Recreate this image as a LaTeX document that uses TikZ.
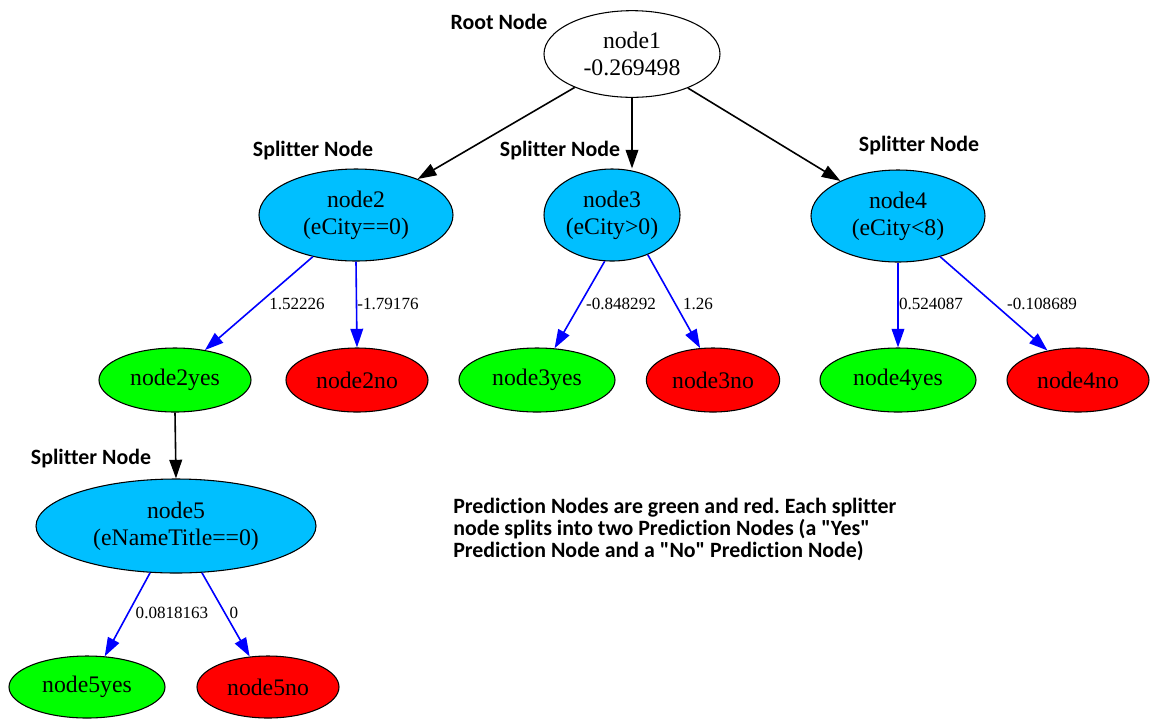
\documentclass[tikz,border=0pt]{standalone}
\usepackage{fontspec}
\setmainfont{Liberation Serif}
\newfontfamily\annfont[Ligatures={NoCommon}]{Carlito}
\usetikzlibrary{shapes.geometric,arrows.meta}
\definecolor{splitblue}{RGB}{0,191,255}
\definecolor{yesgreen}{RGB}{0,255,0}
\definecolor{nored}{RGB}{255,0,0}
\definecolor{edgeblue}{RGB}{0,0,255}
\frenchspacing
\tikzset{
  ell/.style={ellipse, draw=black, line width=0.8pt, inner sep=0pt, align=center,
    font=\fontsize{17.8}{20}\selectfont},
  rootnode/.style={ell, fill=white},
  splitnode/.style={ell, fill=splitblue},
  yesnode/.style={ell, fill=yesgreen},
  nonode/.style={ell, fill=nored},
  blackedge/.style={draw=black, line width=1.2pt, -{Triangle[length=14pt,width=9.5pt]}},
  blueedge/.style={draw=edgeblue, line width=1.2pt, -{Triangle[length=14pt,width=9.5pt]}},
  lbl/.style={font=\fontsize{12.8}{14}\selectfont, inner sep=0pt},
  ann/.style={font=\annfont\bfseries\fontsize{16.4}{16.3}\selectfont, inner sep=0pt, align=left}
}
\begin{document}
\begin{tikzpicture}[x=0.75pt,y=-0.75pt]
\useasboundingbox (0,0) rectangle (1150,719);

% nodes
\node[rootnode, minimum width=132pt, minimum height=65pt] (node1) at (632,54) {node1\\-0.269498};
\node[splitnode, minimum width=145.5pt, minimum height=69pt] (node2) at (356,215) {node2\\(eCity==0)};
\node[splitnode, minimum width=102pt, minimum height=69pt] (node3) at (612,215) {node3\\(eCity>0)};
\node[splitnode, minimum width=130.5pt, minimum height=69pt] (node4) at (898,216) {node4\\(eCity<8)};
\node[yesnode, minimum width=114pt, minimum height=48pt] (node2yes) at (175,380) {node2yes};
\node[nonode, minimum width=106.5pt, minimum height=48pt] (node2no) at (357,380) {node2no};
\node[yesnode, minimum width=117pt, minimum height=48pt] (node3yes) at (537,380) {node3yes};
\node[nonode, minimum width=100pt, minimum height=48pt] (node3no) at (713,380) {node3no};
\node[yesnode, minimum width=117pt, minimum height=48pt] (node4yes) at (898,380) {node4yes};
\node[nonode, minimum width=106.5pt, minimum height=48pt] (node4no) at (1078,380) {node4no};
\node[splitnode, minimum width=210pt, minimum height=70.5pt] (node5) at (176,526) {node5\\(eNameTitle==0)};
\node[yesnode, minimum width=117pt, minimum height=46.5pt] (node5yes) at (87,687) {node5yes};
\node[nonode, minimum width=106.5pt, minimum height=46.5pt] (node5no) at (268,687) {node5no};

% black edges
\draw[blackedge] (node1) -- (node2);
\draw[blackedge] (node1.south) -- (node1.south |- node3.north);
\draw[blackedge] (node1) -- (node4);
\draw[blackedge] (node2yes.south) -- (node5.north);

% blue edges
\draw[blueedge] (node2.224) -- (node2yes.45);
\draw[blueedge] (node2.south) -- (node2no.north);
\draw[blueedge] (node3.261) -- (node3yes.61);
\draw[blueedge] (node3.312) -- (node3no.112);
\draw[blueedge] (node4.south) -- (node4yes.north);
\draw[blueedge] (node4.316) -- (node4no.136);
\draw[blueedge] (node5.241) -- (node5yes.60);
\draw[blueedge] (node5.299) -- (node5no.121);

% edge labels
\node[lbl] (l2yes) at (297,304) {1.52226};
\node[lbl] (l2no) at (388,304) {-1.79176};
\node[lbl] (l3yes) at (621,304) {-0.848292};
\node[lbl] (l3no) at (698,304) {1.26};
\node[lbl] (l4yes) at (931,304) {0.524087};
\node[lbl] (l4no) at (1042,304) {-0.108689};
\node[lbl] (l5yes) at (172,613) {0.0818163};
\node[lbl] (l5no) at (234,613) {0};

% annotations
\node[ann] (aroot) at (499,22) {Root Node};
\node[ann] (asplit2) at (313,151) {Splitter Node};
\node[ann] (asplit3) at (560,151) {Splitter Node};
\node[ann] (asplit4) at (919,146) {Splitter Node};
\node[ann] (asplit5) at (91,459) {Splitter Node};
\node[ann, anchor=north west] (apred) at (453,498) {Prediction Nodes are green and red. Each splitter\\node splits into two Prediction Nodes (a "Yes"\\Prediction Node and a "No" Prediction Node)};
\end{tikzpicture}
\end{document}
